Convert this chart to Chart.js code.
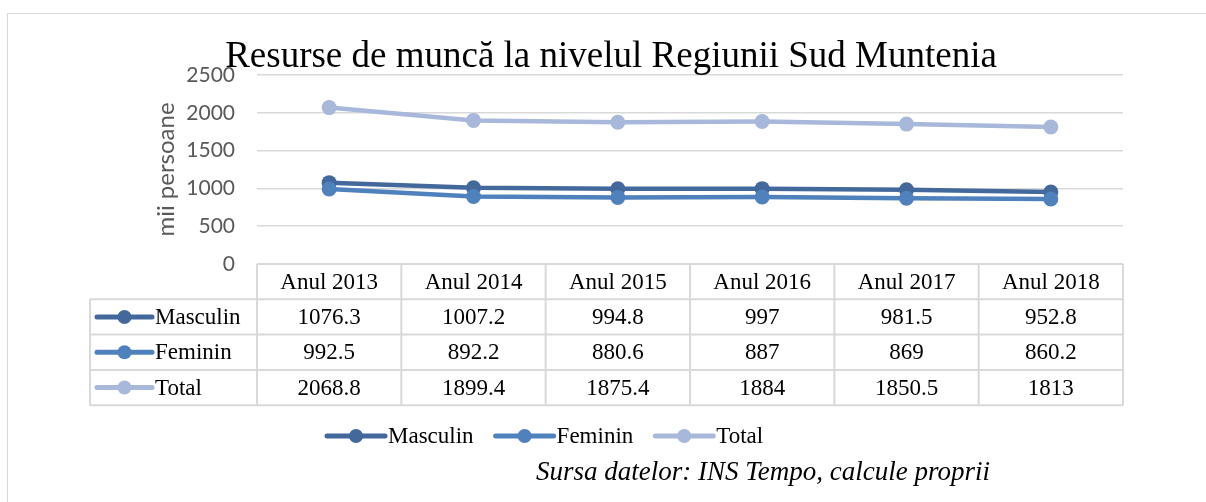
<!DOCTYPE html>
<html>
<head>
<meta charset="utf-8">
<script src="https://cdn.jsdelivr.net/npm/chart.js@4/dist/chart.umd.min.js"></script>
<style>
  html, body { margin: 0; padding: 0; background: #fff; overflow: hidden; }
  #wrap { position: relative; width: 1206px; height: 502px; }
  #frame { position: absolute; left: 7px; top: 13px; width: 1300px; height: 600px;
           border: 1.5px solid #d9d9d9; box-sizing: border-box; }
  canvas { position: absolute; left: 0; top: 0; }
</style>
</head>
<body>
<div id="wrap">
  <div id="frame"></div>
  <canvas id="c" width="1206" height="502"></canvas>
</div>
<script>
/* DATA */
const years = ["Anul 2013", "Anul 2014", "Anul 2015", "Anul 2016", "Anul 2017", "Anul 2018"];
const masculin = [1076.3, 1007.2, 994.8, 997, 981.5, 952.8];
const feminin = [992.5, 892.2, 880.6, 887, 869, 860.2];
const total = [2068.8, 1899.4, 1875.4, 1884, 1850.5, 1813];
const yTicks = [0, 500, 1000, 1500, 2000, 2500];

const chartTitle = "Resurse de muncă la nivelul Regiunii Sud Muntenia";
const sourceNote = "Sursa datelor: INS Tempo, calcule proprii";

/* COLORS / FONTS */
const colors = ["#43699c", "#4f81bd", "#a8b8da"];
const serif = "'Liberation Serif', 'Times New Roman', serif";
const sans = "Lato, 'Open Sans', sans-serif";
const gridColor = "#d9d9d9";

/* draw the little line+dot marker */
function marker(ctx, x, y, len, color) {
  ctx.save();
  ctx.strokeStyle = color;
  ctx.lineWidth = 5;
  ctx.lineCap = "round";
  ctx.beginPath();
  ctx.moveTo(x, y);
  ctx.lineTo(x + len, y);
  ctx.stroke();
  ctx.fillStyle = color;
  ctx.beginPath();
  ctx.arc(x + len / 2, y, 7, 0, Math.PI * 2);
  ctx.fill();
  ctx.restore();
}

/* TITLE, DATA TABLE, LEGEND, SOURCE */
const extras = {
  id: "extras",
  afterDraw(chart) {
    const ctx = chart.ctx;
    const xs = chart.scales.x;
    const area = chart.chartArea;
    const n = years.length;
    const colW = (area.right - area.left) / n;
    const top = area.bottom;
    const rowH = 35.3;
    const labelLeft = 90;

    ctx.save();
    // title
    ctx.fillStyle = "#000";
    ctx.font = "37px " + serif;
    ctx.textAlign = "center";
    ctx.textBaseline = "alphabetic";
    ctx.fillText(chartTitle, 611, 67);

    // table grid
    ctx.strokeStyle = gridColor;
    ctx.lineWidth = 2;
    ctx.beginPath();
    ctx.moveTo(area.left, top); ctx.lineTo(area.right, top);
    for (let r = 1; r <= 4; r++) {
      ctx.moveTo(labelLeft, top + r * rowH);
      ctx.lineTo(area.right, top + r * rowH);
    }
    ctx.moveTo(labelLeft, top + rowH); ctx.lineTo(labelLeft, top + 4 * rowH);
    for (let i = 0; i <= n; i++) {
      const x = area.left + i * colW;
      ctx.moveTo(x, top); ctx.lineTo(x, top + 4 * rowH);
    }
    ctx.stroke();

    // header + values
    ctx.fillStyle = "#000";
    ctx.font = "23px " + serif;
    ctx.textAlign = "center";
    ctx.textBaseline = "middle";
    years.forEach((y, i) => {
      ctx.fillText(y, xs.getPixelForValue(i), top + rowH / 2 + 1);
    });
    chart.data.datasets.forEach((ds, r) => {
      const cy = top + (r + 1.5) * rowH + 1;
      ds.data.forEach((v, i) => {
        ctx.fillText(String(v), xs.getPixelForValue(i), cy);
      });
    });

    // row labels with markers
    ctx.textAlign = "left";
    chart.data.datasets.forEach((ds, r) => {
      const cy = top + (r + 1.5) * rowH;
      marker(ctx, 97, cy, 55, ds.borderColor);
      ctx.fillStyle = "#000";
      ctx.fillText(ds.label, 155, cy + 1);
    });

    // legend
    let lx = 327;
    const ly = 436;
    chart.data.datasets.forEach(ds => {
      marker(ctx, lx, ly, 58, ds.borderColor);
      ctx.fillStyle = "#000";
      ctx.fillText(ds.label, lx + 61, ly + 1);
      lx += 61 + ctx.measureText(ds.label).width + 22;
    });

    // source
    ctx.font = "italic 27px " + serif;
    ctx.textAlign = "right";
    ctx.fillText(sourceNote, 990, 473);
    ctx.restore();
  }
};

const labels = ["Masculin", "Feminin", "Total"];
const series = [masculin, feminin, total];

new Chart(document.getElementById("c"), {
  type: "line",
  data: {
    labels: years,
    datasets: series.map((s, i) => ({
      label: labels[i],
      data: s,
      borderColor: colors[i],
      backgroundColor: colors[i],
      borderWidth: 4.5,
      pointRadius: 7.5,
      pointBorderWidth: 0,
      pointHoverRadius: 7.5,
      tension: 0,
      order: 3 - i
    }))
  },
  options: {
    responsive: false,
    animation: false,
    events: [],
    layout: { padding: { left: 152, right: 83, top: 75, bottom: 238 } },
    plugins: {
      legend: { display: false },
      title: { display: false },
      tooltip: { enabled: false }
    },
    scales: {
      x: {
        display: false,
        offset: true
      },
      y: {
        min: 0,
        max: 2500,
        afterFit: s => { s.width = 105; },
        afterBuildTicks: s => { s.ticks = yTicks.map(v => ({ value: v })); },
        border: { display: false },
        grid: { color: gridColor, lineWidth: 1.5, drawTicks: false },
        ticks: {
          padding: 22,
          color: "#595959",
          font: { family: sans, size: 21 },
          callback: v => String(v)
        },
        title: {
          display: true,
          text: "mii persoane",
          color: "#595959",
          padding: 0,
          font: { family: sans, size: 24 }
        }
      }
    }
  },
  plugins: [extras]
});
</script>
</body>
</html>
